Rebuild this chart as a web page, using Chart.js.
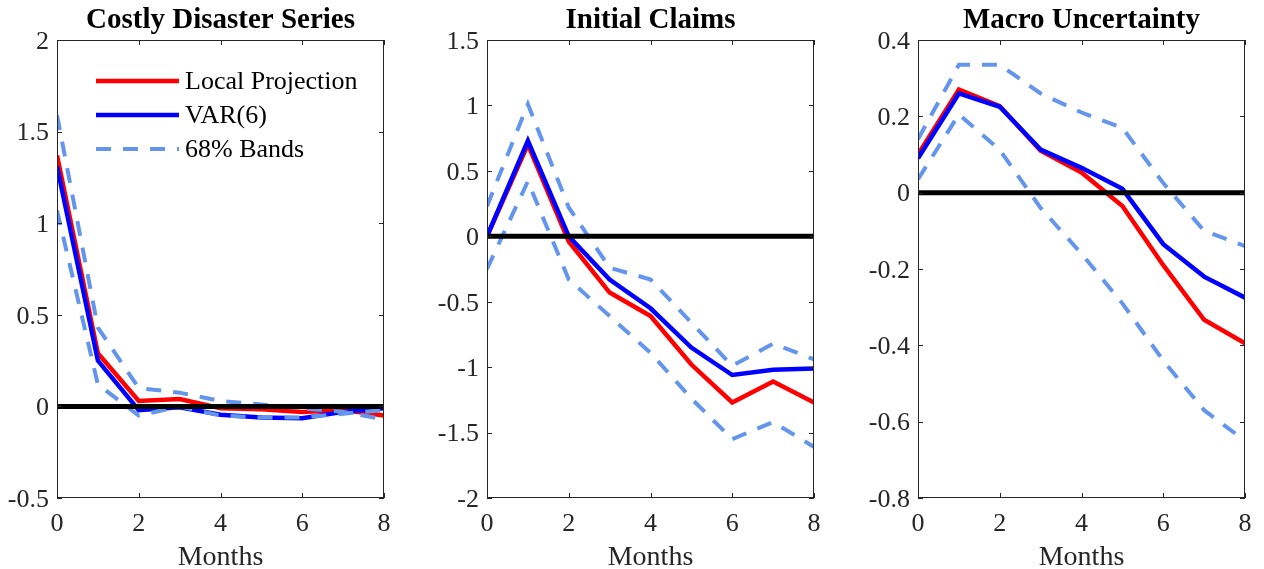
<!DOCTYPE html>
<html>
<head>
<meta charset="utf-8">
<script src="https://cdn.jsdelivr.net/npm/chart.js@4.4.1/dist/chart.umd.min.js"></script>
<style>
  html, body { margin: 0; padding: 0; background: #fff; }
  #wrap { position: relative; width: 1264px; height: 569px; overflow: hidden; }
  canvas { position: absolute; top: 0; }
</style>
</head>
<body>
<div id="wrap">
  <canvas id="chart-disaster" width="441" height="569" style="left:0px"></canvas>
  <canvas id="chart-claims" width="441" height="569" style="left:430px"></canvas>
  <canvas id="chart-uncertainty" width="441" height="569" style="left:861px"></canvas>
</div>
<script>
const months = [0, 1, 2, 3, 4, 5, 6, 7, 8];

const disasterLP = [1.37, 0.29, 0.03, 0.04, -0.01, -0.015, -0.03, -0.02, -0.05];
const disasterVAR = [1.31, 0.25, -0.02, -0.005, -0.045, -0.06, -0.065, -0.03, -0.01];
const disasterUpper = [1.59, 0.43, 0.10, 0.075, 0.03, 0.01, -0.01, -0.03, -0.07];
const disasterLower = [1.07, 0.12, -0.05, 0.0, -0.05, -0.06, -0.06, -0.04, -0.02];

const claimsLP = [0, 0.70, -0.04, -0.43, -0.61, -0.98, -1.27, -1.11, -1.27];
const claimsVAR = [0, 0.73, 0.0, -0.33, -0.55, -0.85, -1.06, -1.02, -1.01];
const claimsUpper = [0.23, 1.01, 0.22, -0.24, -0.33, -0.66, -0.99, -0.82, -0.94];
const claimsLower = [-0.25, 0.42, -0.33, -0.61, -0.89, -1.24, -1.55, -1.42, -1.61];

const uncertLP = [0.10, 0.27, 0.227, 0.11, 0.053, -0.035, -0.19, -0.333, -0.395];
const uncertVAR = [0.09, 0.26, 0.225, 0.113, 0.065, 0.01, -0.135, -0.22, -0.275];
const uncertUpper = [0.14, 0.335, 0.335, 0.26, 0.21, 0.17, 0.025, -0.10, -0.14];
const uncertLower = [0.035, 0.205, 0.112, -0.04, -0.16, -0.29, -0.44, -0.57, -0.65];

const legendLabels = ['Local Projection', 'VAR(6)', '68% Bands'];

const FONT = '"Liberation Serif", "Times New Roman", serif';
const AXIS_COLOR = '#262626';
const RED = '#ff0000';
const BLUE = '#0000ff';
const BAND = '#6495ed';
const BAND_DASH = [15, 12];

function formatTick(v) {
  return String(Math.round(v * 100) / 100);
}

function series(label, values, color, width, dash, order) {
  return {
    label,
    data: months.map((m, i) => ({ x: m, y: values[i] })),
    borderColor: color,
    borderWidth: width,
    borderDash: dash,
    borderCapStyle: 'butt',
    borderJoinStyle: 'miter',
    pointRadius: 0,
    fill: false,
    tension: 0,
    order
  };
}

// zero line, box and inward tick marks, like a matlab axes
const matlabFrame = {
  id: 'matlabFrame',
  afterDatasetsDraw(chart) {
    const { ctx, chartArea: a, scales } = chart;
    const y0 = scales.y.getPixelForValue(0);
    ctx.save();
    ctx.strokeStyle = '#000';
    ctx.lineWidth = 5;
    ctx.beginPath();
    ctx.moveTo(a.left, y0);
    ctx.lineTo(a.right, y0);
    ctx.stroke();

    ctx.strokeStyle = AXIS_COLOR;
    ctx.lineWidth = 1;
    ctx.strokeRect(a.left + 0.5, a.top + 0.5, a.right - a.left - 1, a.bottom - a.top - 1);
    const tl = 5;
    ctx.beginPath();
    scales.x.ticks.forEach(t => {
      const px = Math.round(scales.x.getPixelForValue(t.value)) + 0.5;
      ctx.moveTo(px, a.bottom);
      ctx.lineTo(px, a.bottom - tl);
      ctx.moveTo(px, a.top);
      ctx.lineTo(px, a.top + tl);
    });
    scales.y.ticks.forEach(t => {
      const py = Math.round(scales.y.getPixelForValue(t.value)) + 0.5;
      ctx.moveTo(a.left, py);
      ctx.lineTo(a.left + tl, py);
      ctx.moveTo(a.right, py);
      ctx.lineTo(a.right - tl, py);
    });
    ctx.stroke();
    ctx.restore();
  }
};

const insideLegend = {
  id: 'insideLegend',
  afterDraw(chart) {
    const { ctx, chartArea: a } = chart;
    const ds = chart.data.datasets;
    const rows = [ds[0], ds[1], ds[2]];
    ctx.save();
    ctx.font = '26px ' + FONT;
    ctx.textBaseline = 'middle';
    ctx.textAlign = 'left';
    rows.forEach((d, i) => {
      const y = a.top + 41 + i * 34;
      ctx.strokeStyle = d.borderColor;
      ctx.lineWidth = d.borderWidth;
      ctx.setLineDash(d.borderDash || []);
      ctx.beginPath();
      ctx.moveTo(a.left + 39, y);
      ctx.lineTo(a.left + 122, y);
      ctx.stroke();
      ctx.setLineDash([]);
      ctx.fillStyle = '#000';
      ctx.fillText(legendLabels[i], a.left + 128, y + 1);
    });
    ctx.restore();
  }
};

function makeChart(id, title, lp, varr, upper, lower, yMin, yMax, step, withLegend) {
  const ctx = document.getElementById(id).getContext('2d');
  return new Chart(ctx, {
    type: 'line',
    data: {
      datasets: [
        series(legendLabels[0], lp, RED, 4.5, [], 3),
        series(legendLabels[1], varr, BLUE, 4.5, [], 2),
        series(legendLabels[2], upper, BAND, 4, BAND_DASH, 1),
        series(legendLabels[2], lower, BAND, 4, BAND_DASH, 1)
      ]
    },
    options: {
      responsive: false,
      animation: false,
      layout: { autoPadding: false, padding: 0 },
      plugins: {
        legend: { display: false },
        tooltip: { enabled: false },
        title: {
          display: true,
          text: title,
          color: '#000',
          font: { family: FONT, size: 29, weight: 'bold', lineHeight: 1 },
          padding: { top: 6, bottom: 5 }
        }
      },
      scales: {
        x: {
          type: 'linear',
          min: 0,
          max: 8,
          grid: { display: false, drawTicks: false },
          border: { display: false },
          ticks: {
            stepSize: 2,
            padding: 11,
            maxRotation: 0,
            color: AXIS_COLOR,
            font: { family: FONT, size: 26 },
            callback: v => formatTick(v)
          },
          title: {
            display: true,
            text: 'Months',
            color: AXIS_COLOR,
            font: { family: FONT, size: 28, lineHeight: 0.8 },
            padding: { top: 0, bottom: 0 }
          },
          afterFit: s => { s.height = 71; }
        },
        y: {
          type: 'linear',
          min: yMin,
          max: yMax,
          grid: { display: false, drawTicks: false },
          border: { display: false },
          ticks: {
            stepSize: step,
            padding: 8,
            labelOffset: 2,
            color: AXIS_COLOR,
            font: { family: FONT, size: 26 },
            callback: v => formatTick(v)
          },
          afterFit: s => { s.width = 57; }
        },
        // empty right axis so the plot box sits centred under the title
        yRight: {
          type: 'linear',
          position: 'right',
          min: yMin,
          max: yMax,
          grid: { display: false, drawTicks: false },
          border: { display: false },
          ticks: { display: false },
          afterFit: s => { s.width = 57; }
        }
      }
    },
    plugins: withLegend ? [matlabFrame, insideLegend] : [matlabFrame]
  });
}

makeChart('chart-disaster', 'Costly Disaster Series', disasterLP, disasterVAR, disasterUpper, disasterLower, -0.5, 2, 0.5, true);
makeChart('chart-claims', 'Initial Claims', claimsLP, claimsVAR, claimsUpper, claimsLower, -2, 1.5, 0.5, false);
makeChart('chart-uncertainty', 'Macro Uncertainty', uncertLP, uncertVAR, uncertUpper, uncertLower, -0.8, 0.4, 0.2, false);
</script>
</body>
</html>
